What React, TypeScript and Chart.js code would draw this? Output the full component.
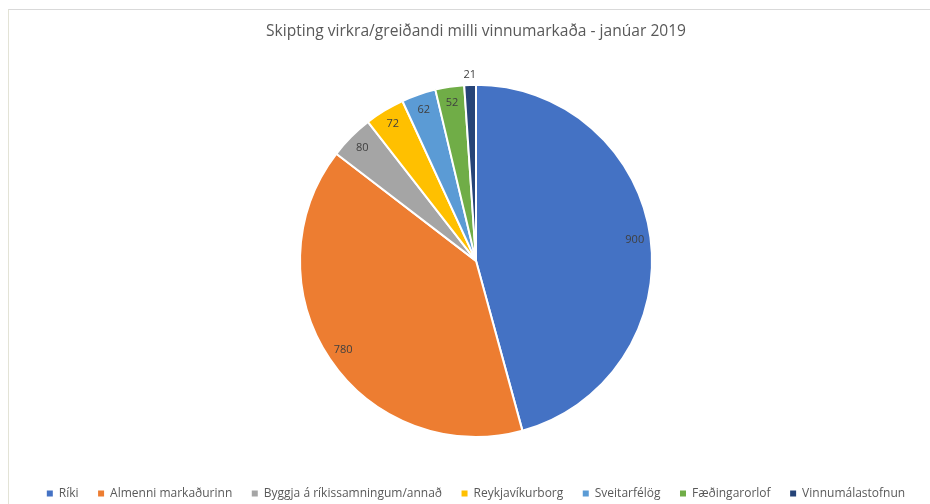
import React, { useEffect, useRef } from "react";
import { Chart, registerables } from "chart.js";

Chart.register(...registerables);

const categories = [
  "Ríki",
  "Almenni markaðurinn",
  "Byggja á ríkissamningum/annað",
  "Reykjavíkurborg",
  "Sveitarfélög",
  "Fæðingarorlof",
  "Vinnumálastofnun",
];
const values = [900, 780, 80, 72, 62, 52, 21];
const colors = ["#4472C4", "#ED7D31", "#A5A5A5", "#FFC000", "#5B9BD5", "#70AD47", "#264478"];
const title = "Skipting virkra/greiðandi milli vinnumarkaða - janúar 2019";

const FONT = "'Open Sans', sans-serif";

const labelPlugin = {
  id: "sliceLabels",
  afterDatasetsDraw(chart: any) {
    const ctx = chart.ctx;
    const meta = chart.getDatasetMeta(0);
    ctx.save();
    ctx.font = `11px ${FONT}`;
    ctx.fillStyle = "#404040";
    ctx.textAlign = "center";
    ctx.textBaseline = "middle";
    meta.data.forEach((arc: any, i: number) => {
      const { x, y, startAngle, endAngle, outerRadius } = arc.getProps(
        ["x", "y", "startAngle", "endAngle", "outerRadius"],
        true
      );
      const span = endAngle - startAngle;
      const mid = (startAngle + endAngle) / 2;
      const r = span < 0.08 ? outerRadius * 1.06 : outerRadius * 0.91;
      ctx.fillText(String(values[i]), x + Math.cos(mid) * r, y + Math.sin(mid) * r);
    });
    ctx.restore();
  },
};

export default function App() {
  const ref = useRef<HTMLCanvasElement | null>(null);
  useEffect(() => {
    if (!ref.current) return;
    const baseGen = (Chart as any).overrides.doughnut.plugins.legend.labels.generateLabels;
    const chart = new Chart(ref.current, {
      type: "pie",
      data: {
        labels: categories,
        datasets: [
          {
            data: values,
            backgroundColor: colors,
            borderColor: "#ffffff",
            borderWidth: 2,
            radius: 176,
          },
        ],
      },
      options: {
        animation: false,
        responsive: false,
        maintainAspectRatio: false,
        layout: { padding: { top: 0, bottom: -5.5, left: 22, right: 0 } },
        plugins: {
          title: {
            display: true,
            text: title,
            color: "#595959",
            font: { family: FONT, size: 15.6, weight: "normal" },
            padding: { top: 22, bottom: 13 },
          },
          legend: {
            position: "bottom",
            labels: {
              usePointStyle: false,
              boxWidth: 6,
              boxHeight: 6,
              color: "#595959",
              font: { family: FONT, size: 12 },
              padding: 19.5,
              generateLabels: (c: any) =>
                baseGen(c).map((l: any) => ({ ...l, lineWidth: 0, strokeStyle: l.fillStyle })),
            },
          },
          tooltip: { enabled: false },
        },
      },
      plugins: [labelPlugin],
    });
    return () => chart.destroy();
  }, []);
  return (
    <div style={{ position: "absolute", left: 0, top: 0, width: 930, height: 504, background: "#fff" }}>
      <div
        style={{
          position: "absolute",
          left: 8,
          top: 9,
          width: 922,
          height: 495,
          borderTop: "1px solid #d9d9d9",
          borderLeft: "1px solid #e3e3d6",
          boxSizing: "border-box",
        }}
      />
      <canvas ref={ref} width={930} height={504} style={{ position: "absolute", left: 0, top: 0 }} />
    </div>
  );
}
